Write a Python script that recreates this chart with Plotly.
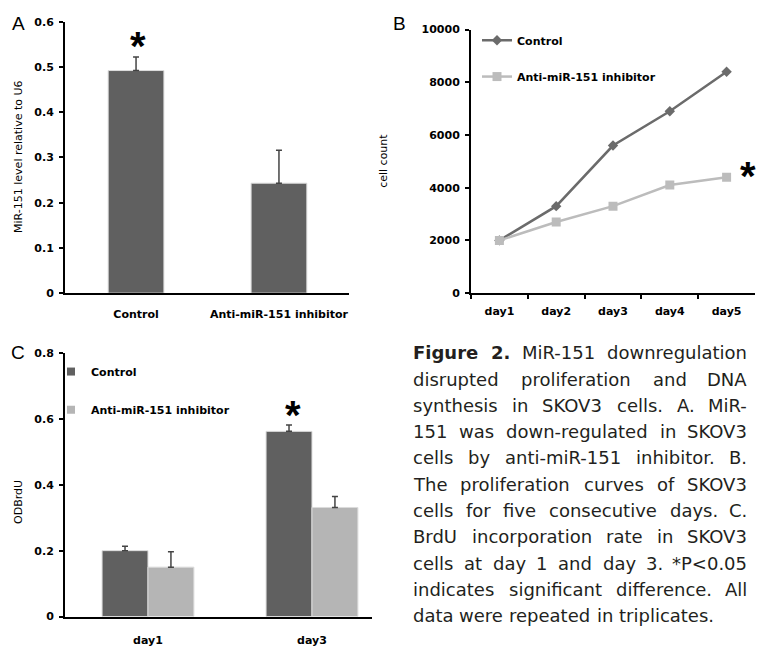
import plotly.graph_objects as go

W, H = 758, 651

# ---------------- data ----------------
# Panel A
a_categories = ["Control", "Anti-miR-151 inhibitor"]
a_values = [0.492, 0.243]
a_errors = [0.030, 0.073]
a_ticks = [0, 0.1, 0.2, 0.3, 0.4, 0.5, 0.6]
a_tick_labels = ["0", "0.1", "0.2", "0.3", "0.4", "0.5", "0.6"]

# Panel B
b_days = ["day1", "day2", "day3", "day4", "day5"]
b_control = [2000, 3300, 5600, 6900, 8400]
b_inhibitor = [2000, 2700, 3300, 4100, 4400]
b_ticks = [0, 2000, 4000, 6000, 8000, 10000]
b_tick_labels = ["0", "2000", "4000", "6000", "8000", "10000"]

# Panel C
c_days = ["day1", "day3"]
c_control = [0.20, 0.562]
c_control_err = [0.013, 0.019]
c_inhibitor = [0.15, 0.331]
c_inhibitor_err = [0.047, 0.033]
c_ticks = [0, 0.2, 0.4, 0.6, 0.8]
c_tick_labels = ["0", "0.2", "0.4", "0.6", "0.8"]

series_names = ["Control", "Anti-miR-151 inhibitor"]

caption_lines = [
    "Figure 2. MiR-151 downregulation",
    "disrupted proliferation and DNA",
    "synthesis in SKOV3 cells. A. MiR-",
    "151 was down-regulated in SKOV3",
    "cells by anti-miR-151 inhibitor. B.",
    "The proliferation curves of SKOV3",
    "cells for five consecutive days. C.",
    "BrdU incorporation rate in SKOV3",
    "cells at day 1 and day 3. *P<0.05",
    "indicates significant difference. All",
    "data were repeated in triplicates.",
]

# ---------------- styles ----------------
DARK = "#606060"
LIGHT = "#b5b5b5"
LINE_DARK = "#6b6b6b"
LINE_LIGHT = "#bcbcbc"
TICKFONT = dict(family="DejaVu Sans", size=11, color="black", weight="bold")
LABFONT = dict(family="DejaVu Sans", size=11, color="black", weight="bold")


def px(xp, yp):
    return xp / W, 1 - yp / H


def dom_x(a, b):
    return [a / W, b / W]


def dom_y(top, bottom):
    return [1 - bottom / H, 1 - top / H]


fig = go.Figure()

# ---- Panel A ----
fig.add_trace(go.Bar(
    x=list(range(len(a_categories))), y=a_values, width=0.39,
    marker=dict(color=DARK, line=dict(color="#dcdcdc", width=1)),
    error_y=dict(type="data", symmetric=False, array=a_errors,
                 arrayminus=[0] * len(a_errors), color="#444444",
                 thickness=1.5, width=3),
    xaxis="x", yaxis="y", showlegend=False,
))

# ---- Panel B ----
fig.add_trace(go.Scatter(
    x=b_days, y=b_control, mode="lines+markers", name=series_names[0],
    line=dict(color=LINE_DARK, width=2.5),
    marker=dict(symbol="diamond", size=8, color=LINE_DARK),
    xaxis="x2", yaxis="y2", legend="legend",
))
fig.add_trace(go.Scatter(
    x=b_days, y=b_inhibitor, mode="lines+markers", name=series_names[1],
    line=dict(color=LINE_LIGHT, width=2.5),
    marker=dict(symbol="square", size=9, color=LINE_LIGHT),
    xaxis="x2", yaxis="y2", legend="legend2",
))

# ---- Panel C ----
c_x = list(range(len(c_days)))
fig.add_trace(go.Bar(
    x=c_x, y=c_control, name=series_names[0],
    marker=dict(color=DARK, line=dict(color="#dcdcdc", width=1)),
    error_y=dict(type="data", symmetric=False, array=c_control_err,
                 arrayminus=[0] * len(c_control_err), color="#444444",
                 thickness=1.5, width=3),
    xaxis="x3", yaxis="y3", showlegend=False,
))
fig.add_trace(go.Bar(
    x=c_x, y=c_inhibitor, name=series_names[1],
    marker=dict(color=LIGHT, line=dict(color="#dcdcdc", width=1)),
    error_y=dict(type="data", symmetric=False, array=c_inhibitor_err,
                 arrayminus=[0] * len(c_inhibitor_err), color="#444444",
                 thickness=1.5, width=3),
    xaxis="x3", yaxis="y3", showlegend=False,
))
# legend entries for panel C (small square swatches)
for name, col, lg in zip(series_names, [DARK, LIGHT], ["legend3", "legend4"]):
    fig.add_trace(go.Scatter(
        x=[None], y=[None], mode="markers", name=name,
        marker=dict(symbol="square", size=8, color=col),
        xaxis="x3", yaxis="y3", legend=lg,
    ))

axis_common = dict(showline=True, linecolor="black", linewidth=2,
                   showgrid=False, zeroline=False, tickfont=TICKFONT,
                   fixedrange=True)

yaxis_common = dict(axis_common, ticks="outside", ticklen=4, tickwidth=1.5,
                    tickcolor="black", ticklabelstandoff=3)

legend_common = dict(bgcolor="rgba(0,0,0,0)", borderwidth=0,
                     font=LABFONT, xanchor="left", yanchor="middle",
                     itemclick=False, itemdoubleclick=False)

lx_b, _ = px(477, 0)
lx_c, _ = px(51, 0)

fig.update_layout(
    width=W, height=H,
    margin=dict(l=0, r=0, t=0, b=0),
    paper_bgcolor="white", plot_bgcolor="white",
    barmode="group", bargap=0.44, bargroupgap=0,
    # Panel A axes
    xaxis=dict(axis_common, domain=dom_x(65, 349), anchor="y",
               range=[-0.497, 1.49], tickvals=list(range(len(a_categories))),
               ticktext=a_categories, ticks="", ticklabelstandoff=10,
               tickfont=LABFONT),
    yaxis=dict(yaxis_common, domain=dom_y(16, 293), anchor="x",
               range=[0, 0.6], tickvals=a_ticks, ticktext=a_tick_labels),
    # Panel B axes
    xaxis2=dict(axis_common, domain=dom_x(471, 755), anchor="y2",
                type="category", range=[-0.5, 4.5], tickson="boundaries",
                ticks="outside", ticklen=4, tickwidth=1.5, tickcolor="black",
                ticklabelstandoff=7, tickfont=LABFONT),
    yaxis2=dict(yaxis_common, domain=dom_y(24, 293), anchor="x2",
                range=[0, 10000], tickvals=b_ticks, ticktext=b_tick_labels),
    # Panel C axes
    xaxis3=dict(axis_common, domain=dom_x(65, 372), anchor="y3",
                range=[-0.506, 1.366], tickvals=c_x, ticktext=c_days,
                ticks="", ticklabelstandoff=12, tickfont=LABFONT),
    yaxis3=dict(yaxis_common, domain=dom_y(354, 623), anchor="x3",
                range=[0, 0.8], tickvals=c_ticks, ticktext=c_tick_labels),
    legend=dict(legend_common, x=lx_b, y=px(0, 35)[1]),
    legend2=dict(legend_common, x=lx_b, y=px(0, 72)[1]),
    legend3=dict(legend_common, x=lx_c, y=px(0, 373)[1]),
    legend4=dict(legend_common, x=lx_c, y=px(0, 412)[1]),
)

annotations = []

# panel letters
for letter, (xp, yp) in zip(["A", "B", "C"], [(18, 18), (399, 18), (18, 354)]):
    x, y = px(xp, yp)
    annotations.append(dict(x=x, y=y, xref="paper", yref="paper", text=letter,
                            showarrow=False, xanchor="center", yanchor="middle",
                            font=dict(family="Liberation Sans", size=19, color="black")))

# axis titles
for title, (xp, yp) in zip(["MiR-151 level relative to U6", "cell count", "ODBrdU"],
                           [(19, 154), (384, 158), (19, 506)]):
    x, y = px(xp, yp)
    annotations.append(dict(x=x, y=y, xref="paper", yref="paper", text=title,
                            showarrow=False, textangle=-90, xanchor="center",
                            yanchor="middle",
                            font=dict(family="DejaVu Sans", size=11, color="black")))

# significance asterisks
STAR = dict(family="Liberation Sans", size=40, color="black", weight="bold")
annotations.append(dict(x=0, y=a_values[0] + a_errors[0], xref="x", yref="y",
                        text="*", showarrow=False, xanchor="center", yanchor="middle",
                        xshift=2, yshift=11, font=STAR))
annotations.append(dict(x=b_days[-1], y=b_inhibitor[-1], xref="x2", yref="y2",
                        text="*", showarrow=False, xanchor="center", yanchor="middle",
                        xshift=21, yshift=1, font=STAR))
annotations.append(dict(x=1, y=c_control[1] + c_control_err[1], xref="x3", yref="y3",
                        text="*", showarrow=False, xanchor="center", yanchor="middle",
                        xshift=-19, yshift=10, font=STAR))

# caption (justified)
REG = {" ": 318, ".": 318, "-": 361, "*": 500, "<": 838,
       "a": 613, "b": 635, "c": 550, "d": 635, "e": 615, "f": 352, "g": 635,
       "h": 634, "i": 278, "j": 278, "k": 579, "l": 278, "m": 974, "n": 634,
       "o": 612, "p": 635, "q": 635, "r": 411, "s": 521, "t": 392, "u": 634,
       "v": 592, "w": 818, "x": 592, "y": 592, "z": 525,
       "A": 684, "B": 686, "C": 698, "D": 770, "F": 575, "K": 656, "M": 863,
       "N": 748, "O": 787, "P": 603, "R": 695, "S": 635, "T": 611, "U": 732,
       "V": 684}
BOLD = {"F": 683, "i": 343, "g": 716, "u": 712, "r": 493, "e": 678, "2": 696, ".": 380}
CAP_FS = 18
CAP_X0, CAP_X1 = 412, 748
CAP_Y0, CAP_STEP = 354, 26.8


def word_w(word, bold):
    tbl = BOLD if bold else REG
    return sum(tbl.get(ch, 636) for ch in word) * CAP_FS / 1000.0


for i, line in enumerate(caption_lines):
    words = line.split(" ")
    bolds = [i == 0 and j < 2 for j in range(len(words))]
    widths = [word_w(w, b) for w, b in zip(words, bolds)]
    yp = CAP_Y0 + i * CAP_STEP
    last = i == len(caption_lines) - 1
    if last:
        gap = REG[" "] * CAP_FS / 1000.0
    else:
        gap = (CAP_X1 - CAP_X0 - sum(widths)) / (len(words) - 1)
    xcur = CAP_X0
    for j, (w, b, ww) in enumerate(zip(words, bolds, widths)):
        txt = f"<b>{w}</b>" if b else w
        if (not last) and j == len(words) - 1:
            x, y = px(CAP_X1, yp)
            anchor = "right"
        else:
            x, y = px(xcur, yp)
            anchor = "left"
        annotations.append(dict(x=x, y=y, xref="paper", yref="paper", text=txt,
                                showarrow=False, xanchor=anchor, yanchor="middle",
                                borderpad=0,
                                font=dict(family="DejaVu Sans", size=CAP_FS,
                                          color="#231f20")))
        xcur += ww + gap

fig.update_layout(annotations=annotations)

fig.write_html(
    "out.html",
    config={"displayModeBar": False},
    post_script="document.body.style.margin='0';document.body.style.padding='0';",
)
